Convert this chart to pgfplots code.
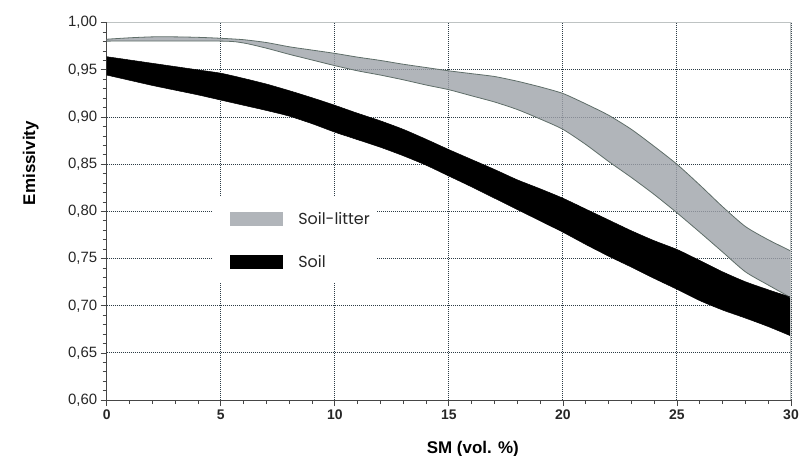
\documentclass[border=0pt]{standalone}
\usepackage{pgfplots}
\pgfplotsset{compat=1.18}
\usepackage{pgfplotstable}
\usepgfplotslibrary{fillbetween}
\usetikzlibrary{calc}
\usepackage{fontspec}
\setmainfont{Liberation Sans}
\newfontfamily\legfont{Poppins}
\definecolor{gridc}{RGB}{45,60,70}
\definecolor{bandgray}{RGB}{158,162,169}
\definecolor{bandedge}{RGB}{95,110,105}
\definecolor{axc}{RGB}{70,70,70}
\definecolor{framec}{RGB}{190,195,195}

\pgfplotstableread{
x y
0 0.9825
1 0.9840
2 0.9850
3 0.9850
4 0.9845
5 0.9835
6 0.9820
7 0.9790
8 0.9745
9 0.9710
10 0.9675
11 0.9635
12 0.9600
13 0.9560
14 0.9525
15 0.9490
16 0.9460
17 0.9430
18 0.9380
19 0.9320
20 0.9250
21 0.9140
22 0.9020
23 0.8870
24 0.8690
25 0.8500
26 0.8280
27 0.8050
28 0.7840
29 0.7700
30 0.7580
}\litup

\pgfplotstableread{
x y
0 0.9805
5 0.9805
6 0.9785
7 0.9730
8 0.9665
9 0.9605
10 0.9545
11 0.9490
12 0.9445
13 0.9395
14 0.9340
15 0.9290
16 0.9225
17 0.9160
18 0.9080
19 0.8980
20 0.8870
21 0.8710
22 0.8530
23 0.8360
24 0.8180
25 0.7985
26 0.7780
27 0.7570
28 0.7360
29 0.7220
30 0.7085
}\litlo

\pgfplotstableread{
x y
0 0.9640
1 0.9605
2 0.9570
3 0.9535
4 0.9500
5 0.9465
6 0.9410
7 0.9350
8 0.9280
9 0.9205
10 0.9125
11 0.9040
12 0.8960
13 0.8870
14 0.8765
15 0.8655
16 0.8550
17 0.8445
18 0.8335
19 0.8240
20 0.8140
21 0.8025
22 0.7910
23 0.7795
24 0.7690
25 0.7597
26 0.7480
27 0.7360
28 0.7255
29 0.7170
30 0.7090
}\blkup

\pgfplotstableread{
x y
0 0.9445
1 0.9390
2 0.9335
3 0.9285
4 0.9235
5 0.9180
6 0.9125
7 0.9070
8 0.9010
9 0.8930
10 0.8840
11 0.8760
12 0.8680
13 0.8590
14 0.8490
15 0.8375
16 0.8260
17 0.8140
18 0.8020
19 0.7900
20 0.7780
21 0.7650
22 0.7526
23 0.7410
24 0.7290
25 0.7175
26 0.7055
27 0.6955
28 0.6870
29 0.6780
30 0.6680
}\blklo

\begin{document}
\begin{tikzpicture}
\begin{axis}[
  name=ax, at={(0,0)}, anchor=south west,
  scale only axis, width=684bp, height=377.3bp,
  xmin=0, xmax=30, ymin=0.6, ymax=1.0,
  xtick={0,5,10,15,20,25,30},
  ytick={0.6,0.65,0.7,0.75,0.8,0.85,0.9,0.95,1.0},
  minor x tick num=4, minor y tick num=4,
  axis x line*=bottom, axis y line*=left,
  axis line style={axc, line width=1bp, -},
  every outer x axis line/.append style={-},
  every outer y axis line/.append style={-},
  tick align=outside,
  major tick length=6bp, minor tick length=4bp,
  tick style={axc, line width=0.8bp},
  grid=major,
  major grid style={gridc, line width=1bp, dash pattern=on 1bp off 1bp},
  /pgf/number format/assume math mode=true,
  yticklabel style={/pgf/number format/.cd, fixed, fixed zerofill, precision=2, use comma, /tikz/.cd, font=\fontsize{15}{18}\selectfont, text=black!85},
  xticklabel style={font=\bfseries\fontsize{14}{17}\selectfont, text=black!85},
  xlabel={SM (vol. \%)}, ylabel={Emissivity},
  every axis x label/.style={at={(rel axis cs:0.535,0)}, anchor=base, yshift=-53bp, font=\bfseries\fontsize{17}{20}\selectfont},
  every axis y label/.style={at={($(rel axis cs:0,0.628)+(-71.7bp,0)$)}, rotate=90, anchor=base, font=\bfseries\fontsize{17}{20}\selectfont},
  legend style={at={(rel axis cs:0.1554,0.538)}, anchor=north west, draw=none, fill=white,
     inner sep=0pt, row sep=0pt, column sep=0pt, font=\legfont\fontsize{16}{19}\selectfont,
     nodes={inner xsep=7bp, inner ysep=0pt, text=black!85}},
  legend cell align=left,
  legend image code/.code={\path[draw=none, fill=none] (-17bp,-21.5bp) rectangle (61bp,21.5bp); \path[#1, draw=none] (0bp,-7bp) rectangle (53bp,7bp);},
]
\addplot[name path=lu, draw=bandedge, line width=0.8bp, smooth, tension=0.4, forget plot] table {\litup};
\addplot[name path=ll, draw=bandedge, line width=0.8bp, smooth, tension=0.4, forget plot] table {\litlo};
\addplot[fill=bandgray, fill opacity=0.8, draw=none, forget plot] fill between[of=lu and ll];
\addplot[name path=bu, draw=black, line width=0.5bp, smooth, tension=0.4, forget plot] table {\blkup};
\addplot[name path=bl, draw=black, line width=0.5bp, smooth, tension=0.4, forget plot] table {\blklo};
\addplot[fill=black, draw=none, forget plot] fill between[of=bu and bl];
\draw[framec, line width=1.2bp] (rel axis cs:0,1) -- (rel axis cs:1,1) -- (rel axis cs:1,0);
\addlegendimage{fill=bandgray!80!white}
\addlegendentry{Soil-litter\hspace{7bp}}
\addlegendimage{fill=black}
\addlegendentry{Soil}
\end{axis}
\pgfresetboundingbox
\path[use as bounding box] ($(ax.south west)+(-106.7bp,-55bp)$) rectangle ($(ax.north east)+(11bp,22.7bp)$);
\end{tikzpicture}
\end{document}
